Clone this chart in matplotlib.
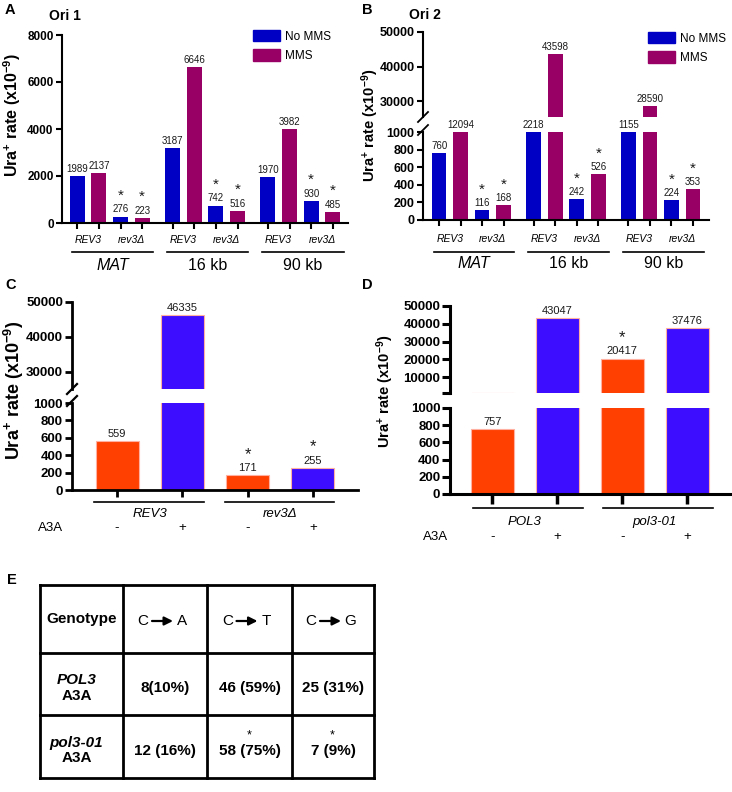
#!/usr/bin/env python3
import numpy as np
import matplotlib
matplotlib.use('Agg')
import matplotlib.pyplot as plt
from matplotlib import rcParams
from matplotlib.lines import Line2D
from matplotlib.patches import Patch
from matplotlib.transforms import blended_transform_factory

rcParams['font.family'] = ['Liberation Sans', 'DejaVu Sans']
rcParams['mathtext.fontset'] = 'custom'
rcParams['mathtext.rm'] = 'Liberation Sans'
rcParams['mathtext.bf'] = 'Liberation Sans:bold'
rcParams['mathtext.it'] = 'Liberation Sans:italic'

# ---------------- data ----------------
sites = ['MAT', '16 kb', '90 kb']
site_italic = [True, False, False]
genotypes_ab = ['REV3', 'rev3Δ']
treatments_ab = ['No MMS', 'MMS']
# order: MAT REV3, MAT rev3Δ, 16kb REV3, 16kb rev3Δ, 90kb REV3, 90kb rev3Δ
ori1_no_mms = [1989, 276, 3187, 742, 1970, 930]
ori1_mms = [2137, 223, 6646, 516, 3982, 485]
ori2_no_mms = [760, 116, 2218, 242, 1155, 224]
ori2_mms = [12094, 168, 43598, 526, 28590, 353]
star_ab = [False, True, False, True, False, True]

genotypes_c = ['REV3', 'rev3Δ']
genotypes_d = ['POL3', 'pol3-01']
a3a_signs = ['-', '+', '-', '+']
a3a_rev3 = [559, 46335, 171, 255]
a3a_pol3 = [757, 43047, 20417, 37476]
star_c = [False, False, True, True]
star_d = [False, False, True, False]

tbl_first = 'Genotype'
tbl_subs = [('C', 'A'), ('C', 'T'), ('C', 'G')]
tbl_rows = ['POL3', 'pol3-01']
tbl_vals = [['8(10%)', '46 (59%)', '25 (31%)'],
            ['12 (16%)', '58 (75%)', '7 (9%)']]
tbl_star = [[False, False, False], [False, True, True]]

c_blue = '#0000C4'
c_mag = '#990066'
c_orange = '#FF4000'
c_violet = '#3C0DFF'
ylab = 'Ura$^{\\mathbf{+}}$ rate (x10$^{\\mathbf{-9}}$)'

W, H = 732, 792
fig = plt.figure(figsize=(W / 100, H / 100), dpi=100)


def fy(py):
    return 1 - py / H


def px_axes(x0, y0, x1, y1):
    return fig.add_axes([x0 / W, 1 - y1 / H, (x1 - x0) / W, (y1 - y0) / H])


def style(ax, lw, tl, fs, yticks, ylabels=None, xbottom=True):
    for s in ['top', 'right']:
        ax.spines[s].set_visible(False)
    ax.spines['left'].set_linewidth(lw)
    ax.spines['bottom'].set_linewidth(lw)
    ax.tick_params(width=lw, length=tl, pad=1.5)
    if not xbottom:
        ax.spines['bottom'].set_visible(False)
        ax.tick_params(axis='x', bottom=False, labelbottom=False)
    ax.set_yticks(yticks)
    if ylabels is None:
        ylabels = [str(t) for t in yticks]
    ax.set_yticklabels(ylabels, fontsize=fs, fontweight='bold')


def bars(axs, pos, vals, cols, stars, width, fs, sfs, edge=None, soff=1.5):
    lo = axs[0]
    hi = axs[1] if len(axs) > 1 else None
    for ax in axs:
        ax.bar(pos, vals, width=width, color=cols,
               edgecolor=edge if edge else cols, linewidth=0.8 if edge else 0)
    for x, v, s in zip(pos, vals, stars):
        if hi is not None and v > hi.get_ylim()[0]:
            tgt, y = hi, v
        else:
            tgt, y = lo, min(v, lo.get_ylim()[1])
        tgt.annotate(str(v), (x, y), xytext=(0, 1.5), textcoords='offset points',
                     ha='center', va='bottom', fontsize=fs, color='#1a1a1a',
                     annotation_clip=False)
        if s:
            tgt.annotate('*', (x, y), xytext=(0, fs + soff), textcoords='offset points',
                         ha='center', va='bottom', fontsize=sfs, color='#1a1a1a',
                         annotation_clip=False)


def break_marks(x0, ys, lw):
    for y in ys:
        fig.add_artist(Line2D([(x0 - 5) / W, (x0 + 5) / W], [fy(y + 5), fy(y - 5)],
                              transform=fig.transFigure, color='k', lw=lw))


def interleave(a, b):
    return [v for pair in zip(a, b) for v in pair]


# ---------------- panels A and B ----------------
pos_ab = np.array([g * 4.4 + i for g in range(3) for i in range(4)])
cols_ab = [c_blue, c_mag] * 6
stars_ab = interleave(star_ab, star_ab)


def ori_axis_labels(ax, y_geno, y_line, y_site):
    tr = blended_transform_factory(ax.transData, fig.transFigure)
    for g, site in enumerate(sites):
        p = pos_ab[4 * g:4 * g + 4]
        for j, gen in enumerate(genotypes_ab):
            ax.text((p[2 * j] + p[2 * j + 1]) / 2, fy(y_geno), gen, transform=tr,
                    ha='center', va='center', fontsize=7.5, style='italic')
        x0, x1 = p[0] - 0.25, p[-1] + 0.5
        ax.plot([x0, x1], [fy(y_line)] * 2, transform=tr,
                color='k', lw=1.2, clip_on=False)
        ax.text((x0 + x1) / 2, fy(y_site), site, transform=tr,
                ha='center', va='center', fontsize=11.5,
                style='italic' if site_italic[g] else 'normal')


# A
axA = px_axes(62, 35, 348, 223)
axA.set_xlim(-0.7, 12.5)
axA.set_ylim(0, 8000)
style(axA, 1.5, 4.5, 8.5, [0, 2000, 4000, 6000, 8000])
axA.set_xticks(pos_ab)
axA.set_xticklabels([])
bars([axA], pos_ab, interleave(ori1_no_mms, ori1_mms), cols_ab, stars_ab, 0.68, 7, 11,
     soff=3)
ori_axis_labels(axA, 240, 252, 265)
fig.text(12 / W, fy(115), ylab, rotation=90, ha='center', va='center',
         fontsize=11.5, fontweight='bold')
fig.legend(handles=[Patch(color=c_blue, label=treatments_ab[0]),
                    Patch(color=c_mag, label=treatments_ab[1])],
           loc='upper left', bbox_to_anchor=(253 / W, fy(30)), frameon=False,
           fontsize=8.5, handlelength=2.3, handleheight=1.1, handletextpad=0.4,
           labelspacing=0.55, borderpad=0, borderaxespad=0)
fig.text(5 / W, fy(10), 'A', fontsize=10.5, fontweight='bold', va='center')
fig.text(49 / W, fy(16), 'Ori 1', fontsize=10, fontweight='bold', va='center')

# B
axB_lo = px_axes(423, 132, 709, 220)
axB_hi = px_axes(423, 32, 709, 117)
for ax in (axB_lo, axB_hi):
    ax.set_xlim(-0.75, 12.55)
axB_lo.set_ylim(0, 1000)
axB_hi.set_ylim(25400, 50000)
style(axB_lo, 1.5, 4.5, 9, [0, 200, 400, 600, 800, 1000])
style(axB_hi, 1.5, 4.5, 9, [30000, 40000, 50000], xbottom=False)
axB_lo.set_xticks(pos_ab)
axB_lo.set_xticklabels([])
bars([axB_lo, axB_hi], pos_ab, interleave(ori2_no_mms, ori2_mms), cols_ab, stars_ab,
     0.68, 7, 11, soff=2.5)
ori_axis_labels(axB_lo, 239, 252, 264)
break_marks(423, [117, 130], 1.3)
fig.text(370 / W, fy(125), ylab, rotation=90, ha='center', va='center',
         fontsize=10.5, fontweight='bold')
fig.legend(handles=[Patch(color=c_blue, label=treatments_ab[0]),
                    Patch(color=c_mag, label=treatments_ab[1])],
           loc='upper left', bbox_to_anchor=(648 / W, fy(32)), frameon=False,
           fontsize=8.5, handlelength=2.3, handleheight=1.1, handletextpad=0.4,
           labelspacing=0.55, borderpad=0, borderaxespad=0)
fig.text(362 / W, fy(10), 'B', fontsize=10.5, fontweight='bold', va='center')
fig.text(409 / W, fy(15), 'Ori 2', fontsize=10, fontweight='bold', va='center')

# ---------------- panels C and D ----------------
pos_cd = np.arange(4)
cols_cd = [c_orange, c_violet] * 2


def a3a_labels(ax, genos, y_line, y_geno, y_sign, x_a3a, fs, ext):
    tr = blended_transform_factory(ax.transData, fig.transFigure)
    for j, gen in enumerate(genos):
        p = pos_cd[2 * j:2 * j + 2]
        ax.plot([p[0] - ext[0], p[-1] + ext[1]], [fy(y_line)] * 2, transform=tr,
                color='k', lw=1.2, clip_on=False)
        ax.text((p[0] + p[-1]) / 2, fy(y_geno), gen, transform=tr, ha='center',
                va='center', fontsize=fs, style='italic')
    for x, s in zip(pos_cd, a3a_signs):
        ax.text(x, fy(y_sign), s, transform=tr, ha='center', va='center', fontsize=fs)
    fig.text(x_a3a / W, fy(y_sign), 'A3A', ha='left', va='center', fontsize=fs)


# C
axC_lo = px_axes(72, 403, 358, 490)
axC_hi = px_axes(72, 302, 358, 389)
for ax in (axC_lo, axC_hi):
    ax.set_xlim(-0.69, 3.69)
axC_lo.set_ylim(0, 1000)
axC_hi.set_ylim(25000, 50000)
style(axC_lo, 2, 5, 9.5, [0, 200, 400, 600, 800, 1000])
style(axC_hi, 2, 5, 9.5, [30000, 40000, 50000], xbottom=False)
axC_lo.set_xticks(pos_cd)
axC_lo.set_xticklabels([])
bars([axC_lo, axC_hi], pos_cd, a3a_rev3, cols_cd, star_c, 0.66, 8, 12, edge='#ffb0a0')
a3a_labels(axC_lo, genotypes_c, 502, 514, 528, 38, 9.5, (0.35, 0.33))
break_marks(72, [389, 401], 1.6)
fig.text(14 / W, fy(390), ylab, rotation=90, ha='center', va='center',
         fontsize=13, fontweight='bold')
fig.text(5 / W, fy(285), 'C', fontsize=10.5, fontweight='bold', va='center')

# D
axD_lo = px_axes(450, 408, 730, 494)
axD_hi = px_axes(450, 306, 730, 393)
for ax in (axD_lo, axD_hi):
    ax.set_xlim(-0.65, 3.66)
axD_lo.set_ylim(0, 1000)
axD_hi.set_ylim(1000, 50000)
style(axD_lo, 2.2, 5.5, 9.5, [0, 200, 400, 600, 800, 1000])
style(axD_hi, 2.2, 5.5, 9.5, [1000, 10000, 20000, 30000, 40000, 50000],
      ['', '10000', '20000', '30000', '40000', '50000'], xbottom=False)
axD_lo.set_xticks(pos_cd)
axD_lo.set_xticklabels([])
axD_lo.tick_params(axis='x', length=7, width=2.5)
bars([axD_lo, axD_hi], pos_cd, a3a_pol3, cols_cd, star_d, 0.66, 8, 12, edge='#ffb0a0')
a3a_labels(axD_lo, genotypes_d, 508, 522, 537, 423, 9.5, (0.3, 0.4))
fig.text(385 / W, fy(391), ylab, rotation=90, ha='center', va='center',
         fontsize=10.5, fontweight='bold')
fig.text(362 / W, fy(285), 'D', fontsize=10.5, fontweight='bold', va='center')

# ---------------- panel E table ----------------
col_edges = [40, 123, 207, 292, 374]
row_edges = [585, 653, 715, 778]
axE = px_axes(col_edges[0], row_edges[0], col_edges[-1], row_edges[-1])
axE.set_xlim(col_edges[0], col_edges[-1])
axE.set_ylim(row_edges[-1], row_edges[0])
axE.axis('off')
for x in col_edges:
    axE.plot([x, x], [row_edges[0], row_edges[-1]], color='k', lw=2, clip_on=False,
             solid_capstyle='projecting')
for y in row_edges:
    axE.plot([col_edges[0], col_edges[-1]], [y, y], color='k', lw=2, clip_on=False,
             solid_capstyle='projecting')

cx = [(a + b) / 2 for a, b in zip(col_edges[:-1], col_edges[1:])]
cy = [(a + b) / 2 for a, b in zip(row_edges[:-1], row_edges[1:])]
axE.text(cx[0], cy[0], tbl_first, ha='center', va='center', fontsize=11,
         fontweight='bold')
for j, (a, b) in enumerate(tbl_subs):
    xc, yh = cx[j + 1] - 2, cy[0] + 2
    axE.text(xc - 20, yh, a, ha='center', va='center', fontsize=11)
    axE.text(xc + 19, yh, b, ha='center', va='center', fontsize=11)
    axE.annotate('', xy=(xc + 10, yh), xytext=(xc - 11, yh),
                 arrowprops=dict(arrowstyle='-|>,head_length=0.5,head_width=0.25',
                                 lw=1.6, color='k', shrinkA=0, shrinkB=0))

fig.canvas.draw()
renderer = fig.canvas.get_renderer()
for i, gen in enumerate(tbl_rows):
    yc = cy[i + 1] + 4
    axE.text(cx[0] - 5, yc - 8, gen, ha='center', va='center', fontsize=11,
             fontweight='bold', style='italic')
    axE.text(cx[0] - 5, yc + 8, 'A3A', ha='center', va='center', fontsize=11,
             fontweight='bold')
    for j, val in enumerate(tbl_vals[i]):
        t = axE.text(cx[j + 1], yc, val, ha='center', va='center', fontsize=11,
                     fontweight='bold')
        if tbl_star[i][j]:
            k = val.index('(') + 1
            bb = t.get_window_extent(renderer)
            w0 = axE.text(0, 0, val[:k], fontsize=11, fontweight='bold')
            w1 = axE.text(0, 0, val[:k + 1], fontsize=11, fontweight='bold')
            xs = bb.x0 + (w0.get_window_extent(renderer).width +
                          w1.get_window_extent(renderer).width) / 2
            w0.remove()
            w1.remove()
            xd = axE.transData.inverted().transform((xs, bb.y0))[0]
            axE.text(xd, yc - 15, '*', ha='center', va='center', fontsize=9)
fig.text(7 / W, fy(580), 'E', fontsize=10.5, fontweight='bold', va='center')

fig.savefig('out.png', dpi=100)
plt.close()
